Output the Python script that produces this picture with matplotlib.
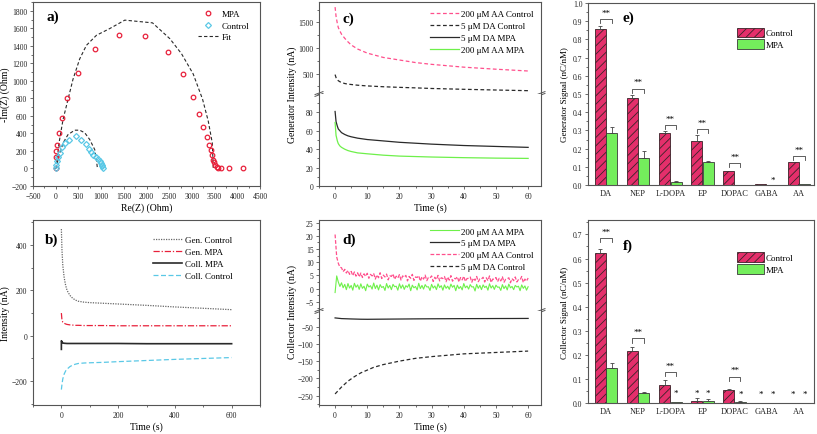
import numpy as np
import matplotlib
matplotlib.use("Agg")
import matplotlib.pyplot as plt
from matplotlib.ticker import MultipleLocator, FixedLocator
from matplotlib.lines import Line2D

plt.rcParams['font.family'] = ['Liberation Serif', 'DejaVu Serif']
plt.rcParams['hatch.linewidth'] = 0.6

# ---------------- data ----------------
# a) Nyquist
mpa_re = [0, 5, 15, 30, 70, 140, 257, 500, 875, 1390, 1963, 2463, 2809, 3015, 3162,
          3250, 3331, 3375, 3412, 3449, 3471, 3493, 3507, 3544, 3581, 3647, 3809, 4125]
mpa_im = [4, 130, 196, 272, 400, 572, 802, 1086, 1359, 1527, 1512, 1328, 1075, 813, 621,
          468, 364, 272, 207, 157, 100, 69, 38, 15, 11, 11, 11, 0]
ctrl_re = [5, 14, 30, 50, 88, 140, 199, 294, 441, 566, 662, 735, 780, 824, 880, 934, 970, 993,
           1015, 1030, 1044]
ctrl_im = [40, 4, 80, 130, 176, 240, 291, 330, 368, 330, 284, 226, 190, 157, 130, 107, 88, 68,
           45, 25, 4]
fit_mpa_re = [0, 14, 73, 162, 272, 382, 529, 676, 897, 1191, 1522, 2132, 2515, 2772, 3029,
              3235, 3360, 3449, 3471]
fit_mpa_im = [0, 22, 291, 560, 790, 1020, 1251, 1405, 1520, 1597, 1693, 1662, 1481, 1309, 1078,
              790, 541, 291, 0]
fit_ctrl_re = [0, 14, 73, 162, 272, 419, 529, 640, 750, 860, 897, 919]
fit_ctrl_im = [0, 22, 138, 291, 387, 437, 437, 407, 330, 215, 100, 0]

# b) chronoamperometry 600 s
b_t = [0, 2, 5, 10, 15, 20, 30, 40, 50, 60, 80, 100, 150, 200, 300, 400, 500, 600]
gen_ctrl = [470, 380, 310, 255, 222, 200, 178, 165, 157, 152, 148, 146, 143, 140, 134, 127, 121, 115]
gen_mpa = [100, 70, 60, 55, 52, 50, 48, 47, 46, 46, 45, 45, 45, 44, 44, 44, 44, 44]
coll_mpa_t = [0, 0, 5, 10, 20, 40, 60, 100, 200, 300, 400, 500, 600]
coll_mpa = [-60, -22, -32, -33, -34, -34, -34, -34, -34, -35, -35, -35, -35]
coll_ctrl = [-237, -215, -190, -168, -155, -147, -136, -129, -125, -122, -120, -119, -117, -114,
             -109, -104, -100, -96]

# c) generator currents 60 s
c_t = [0, 0.3, 0.7, 1, 1.5, 2, 3, 4, 5, 7, 10, 15, 20, 25, 30, 40, 50, 60]
c_aa_ctrl = [1800, 1620, 1480, 1400, 1330, 1270, 1190, 1120, 1060, 980, 900, 815, 765, 715, 680,
             625, 585, 550]
c_da_ctrl = [480, 420, 380, 360, 340, 325, 305, 293, 286, 272, 258, 242, 230, 220, 208, 192, 178, 165]
c_da_mpa = [81, 70, 65, 62, 60, 58, 56, 54.5, 53.5, 52, 50.5, 49, 47.5, 46.5, 45.5, 44, 43, 42]
c_aa_mpa = [69, 55, 49, 46, 43.5, 42, 40, 38.5, 37.5, 36, 35, 33.5, 32.5, 32, 31.5, 30.8, 30.3, 30]

# d) collector currents 60 s
d_aa_ctrl = [20.5, 12.0, 9.6, 8.1, 7.9, 6.4, 7.3, 5.9, 6.9, 5.4, 6.5, 4.9, 6.3, 4.7, 6.0, 4.4, 5.9,
             4.2, 5.6, 4.6, 5.8, 3.9, 5.4, 4.8, 5.7, 3.6, 5.2, 4.1, 6.0, 3.8, 5.1, 4.4, 5.5, 3.3,
             4.9, 4.6, 5.6, 3.5, 4.7, 4.0, 5.3, 3.2, 4.8, 4.3, 5.0, 2.9, 4.6, 3.9, 5.4, 3.1, 4.4,
             4.2, 4.9, 2.8, 4.5, 3.6, 5.1, 3.0, 4.2, 4.0, 4.8, 2.7, 4.3, 3.4, 5.0, 2.9, 4.1, 3.8,
             4.6, 2.6, 4.4, 3.2, 4.9, 2.8, 3.9, 3.7, 4.5, 2.5, 4.2, 3.3, 4.7, 2.7, 3.8, 3.9, 4.4,
             2.4, 4.0, 3.1, 4.6, 2.6, 3.7, 3.6, 4.3, 2.5, 4.1, 3.0, 4.8, 2.3, 3.6, 3.5, 4.2, 2.6,
             3.9, 2.9, 4.5, 2.4, 3.5, 3.7, 4.1, 2.2, 3.8, 3.0, 4.4, 2.5, 3.4, 3.3, 4.6, 2.3, 3.6,
             2.8, 4.0]
d_aa_mpa = [-1.5, 4.8, 2.5, 0.8, 2.2, 0.3, 1.6, -0.4, 1.9, 0.2, 1.2, -0.6, 2.0, 0.5, 1.4, -0.3,
            1.8, 0.1, 0.9, -0.8, 1.7, 0.6, 1.1, -0.2, 2.1, 0.0, 1.3, -0.5, 1.5, 0.4, 0.8, -0.7,
            1.9, 0.2, 1.2, -0.4, 1.6, 0.7, 0.9, -0.6, 1.8, 0.1, 1.4, -0.3, 1.1, 0.5, 1.7, -0.8,
            1.3, 0.3, 0.8, -0.5, 2.0, 0.0, 1.2, -0.2, 1.5, 0.6, 0.7, -0.7, 1.6, 0.2, 1.0, -0.4,
            1.8, 0.4, 1.1, -0.6, 1.4, 0.1, 0.9, -0.3, 1.7, 0.5, 1.2, -0.8, 1.3, 0.0, 0.8, -0.5,
            1.9, 0.3, 1.0, -0.2, 1.5, 0.6, 0.7, -0.9, 1.6, 0.1, 1.2, -0.4, 1.4, 0.4, 0.9, -0.6,
            1.8, 0.2, 1.1, -0.3, 1.3, 0.5, 0.6, -0.7, 1.5, 0.0, 1.0, -0.5, 1.7, 0.3, 0.8, -0.4,
            1.2, 0.6, 0.9, -0.8, 1.4, 0.1, 1.0, -0.6, 0.7]
d_da_mpa_t = [0, 2, 5, 8, 10, 15, 20, 25, 30, 35, 40, 45, 50, 55, 60]
d_da_mpa = [-25, -27, -28, -28.8, -29, -28.6, -28.2, -27.8, -27.5, -27.3, -27.1, -27, -26.8,
            -26.7, -26.5]
d_da_ctrl_t = [0, 2, 4, 6, 8, 10, 12, 15, 20, 25, 30, 35, 40, 45, 50, 55, 60]
d_da_ctrl = [-245, -225, -208, -195, -184, -176, -168, -160, -150, -142, -137, -133, -129, -127,
             -125, -123, -121]

# e), f) bar charts
categories = ['DA', 'NEP', 'L-DOPA', 'EP', 'DOPAC', 'GABA', 'AA']
e_ctrl = [0.857, 0.477, 0.283, 0.244, 0.077, 0.004, 0.125]
e_ctrl_err = [0.018, 0.018, 0.011, 0.033, 0.0, 0.0, 0.0]
e_mpa = [0.283, 0.150, 0.018, 0.128, 0.002, 0.0, 0.007]
e_mpa_err = [0.038, 0.037, 0.004, 0.002, 0.0, 0.0, 0.0]
e_sig_idx = [0, 1, 2, 3, 4, 6]
e_sig_y = [0.912, 0.53, 0.328, 0.31, 0.119, 0.16]
e_dot = [(5, 1, 0.026)]

f_ctrl = [0.623, 0.218, 0.076, 0.008, 0.055, 0.001, 0.0]
f_ctrl_err = [0.017, 0.013, 0.019, 0.011, 0.004, 0.0, 0.0]
f_mpa = [0.144, 0.040, 0.003, 0.008, 0.004, 0.0, 0.0]
f_mpa_err = [0.023, 0.006, 0.0, 0.007, 0.006, 0.0, 0.0]
f_sig_idx = [0, 1, 2, 4]
f_sig_y = [0.686, 0.268, 0.13, 0.11]
f_dot = [(2, 1, 0.041), (3, -1, 0.044), (3, 1, 0.044), (4, 1, 0.037), (5, -1, 0.036),
         (5, 1, 0.036), (6, -1, 0.036), (6, 1, 0.036)]

# ---------------- style ----------------
W, H = 817, 435
fig = plt.figure(figsize=(W / 100, H / 100), dpi=100)

def box(l, t, r, b):
    return [l / W, 1 - b / H, (r - l) / W, (b - t) / H]

FRAME = '#555555'
TICK_FS = 5.5
LAB_FS = 7
LEG_FS = 6.5
PANEL_FS = 11
RED = '#e8203a'
CYAN = '#5ac8e6'
PINK = '#ff4f8c'
GREEN = '#6ef04a'
DARK = '#2a2a2a'
BAR_PINK = '#e42f6b'
BAR_GREEN = '#74ee5c'

def style(ax):
    for s in ax.spines:
        ax.spines[s].set_color(FRAME)
        ax.spines[s].set_linewidth(0.8)
    ax.tick_params(which='both', direction='out', colors=FRAME, labelcolor='#222222',
                   labelsize=TICK_FS, width=0.6, top=False, right=False, pad=1.5)
    ax.tick_params(which='major', length=2.5)
    ax.tick_params(which='minor', length=1.4)

def panel_label(ax, x, y, s):
    ax.text(x, y, s, transform=ax.transAxes, fontsize=PANEL_FS, fontweight='bold',
            va='top', ha='left')

def break_marks(ax):
    for xx in (0, 1):
        for dy in (-0.010, 0.010):
            ax.plot([xx - 0.018, xx + 0.018], [dy - 0.016, dy + 0.016],
                    transform=ax.transAxes, color=FRAME, lw=0.7, clip_on=False)

# ---------------- a) ----------------
ax = fig.add_axes(box(33, 3, 260, 187))
style(ax)
ax.plot(fit_mpa_re, fit_mpa_im, ls=(0, (3, 2)), color=DARK, lw=0.8)
ax.plot(fit_ctrl_re, fit_ctrl_im, ls=(0, (3, 2)), color=DARK, lw=0.8)
ax.plot(mpa_re, mpa_im, 'o', mfc='none', mec=RED, ms=3.3, mew=0.9)
ax.plot(ctrl_re, ctrl_im, 'D', mfc='none', mec=CYAN, ms=3, mew=0.9)
ax.set_xlim(-500, 4500)
ax.set_ylim(-200, 1900)
ax.xaxis.set_major_locator(MultipleLocator(500))
ax.xaxis.set_minor_locator(MultipleLocator(250))
ax.yaxis.set_major_locator(FixedLocator(np.arange(-200, 1801, 200)))
ax.yaxis.set_minor_locator(MultipleLocator(100))
ax.set_xlabel('Re(Z) (Ohm)', fontsize=LAB_FS, labelpad=2)
ax.set_ylabel('-Im(Z) (Ohm)', fontsize=LAB_FS, labelpad=1)
panel_label(ax, 0.058, 0.96, 'a)')
hs = [Line2D([], [], ls='none', marker='o', mfc='none', mec=RED, ms=3.3, mew=0.9),
      Line2D([], [], ls='none', marker='D', mfc='none', mec=CYAN, ms=3, mew=0.9),
      Line2D([], [], ls=(0, (3, 2)), color=DARK, lw=0.8)]
ax.legend(hs, ['MPA', 'Control', 'Fit'], loc='upper left', bbox_to_anchor=(0.70, 0.99),
          frameon=False, fontsize=LEG_FS, handlelength=2.2, labelspacing=0.35,
          handletextpad=0.4, borderpad=0.2)

# ---------------- b) ----------------
ax = fig.add_axes(box(33, 221, 260, 406))
style(ax)
ax.plot(b_t, gen_ctrl, ls=(0, (1, 1)), color='#666666', lw=0.9, label='Gen. Control')
ax.plot(b_t, gen_mpa, ls=(0, (5, 1.5, 1, 1.5)), color=RED, lw=0.9, label='Gen. MPA')
ax.plot(coll_mpa_t, coll_mpa, ls='-', color=DARK, lw=1.2, label='Coll. MPA')
ax.plot(b_t, coll_ctrl, ls=(0, (4, 2)), color=CYAN, lw=0.9, label='Coll. Control')
ax.set_xlim(-100, 700)
ax.set_ylim(-305, 510)
ax.xaxis.set_major_locator(FixedLocator([0, 200, 400, 600]))
ax.xaxis.set_minor_locator(MultipleLocator(100))
ax.yaxis.set_major_locator(FixedLocator([-200, 0, 200, 400]))
ax.yaxis.set_minor_locator(MultipleLocator(100))
ax.set_xlabel('Time (s)', fontsize=LAB_FS, labelpad=2)
ax.set_ylabel('Intensity (nA)', fontsize=LAB_FS, labelpad=1)
panel_label(ax, 0.05, 0.93, 'b)')
ax.legend(loc='upper left', bbox_to_anchor=(0.50, 0.95), frameon=False, fontsize=LEG_FS,
          handlelength=3.2, labelspacing=0.4, handletextpad=0.4, borderpad=0.2)

# ---------------- c) ----------------
axu = fig.add_axes(box(319, 3, 541, 95))
axl = fig.add_axes(box(319, 95, 541, 187))
for a_ in (axu, axl):
    style(a_)
    a_.set_xlim(-5, 64)
    a_.xaxis.set_major_locator(MultipleLocator(10))
    a_.xaxis.set_minor_locator(MultipleLocator(5))
axu.spines['bottom'].set_visible(False)
axl.spines['top'].set_visible(False)
axu.tick_params(axis='x', which='both', bottom=False, labelbottom=False)
axu.plot(c_t, c_aa_ctrl, ls=(0, (3, 2)), color=PINK, lw=0.9, label='200 μM AA Control')
axu.plot(c_t, c_da_ctrl, ls=(0, (3, 2)), color=DARK, lw=0.9, label='5 μM DA Control')
axl.plot(c_t, c_da_mpa, ls='-', color=DARK, lw=0.9, label='5 μM DA MPA')
axl.plot(c_t, c_aa_mpa, ls='-', color=GREEN, lw=0.9, label='200 μM AA MPA')
axu.set_ylim(100, 1900)
axu.yaxis.set_major_locator(FixedLocator([500, 1000, 1500]))
axu.yaxis.set_minor_locator(MultipleLocator(250))
axl.set_ylim(0, 100)
axl.yaxis.set_major_locator(FixedLocator([0, 20, 40, 60, 80]))
axl.yaxis.set_minor_locator(MultipleLocator(10))
axl.set_xlabel('Time (s)', fontsize=LAB_FS, labelpad=2)
fig.text(292 / W, 1 - 95 / H, 'Generator Intensity (nA)', rotation=90, fontsize=LAB_FS,
         ha='center', va='center')
break_marks(axu)
panel_label(axu, 0.105, 0.9, 'c)')
h1, l1 = axu.get_legend_handles_labels()
h2, l2 = axl.get_legend_handles_labels()
axu.legend(h1 + h2, l1 + l2, loc='upper left', bbox_to_anchor=(0.47, 0.98), frameon=False,
           fontsize=LEG_FS, handlelength=3.2, labelspacing=0.4, handletextpad=0.3,
           borderpad=0.2)

# ---------------- d) ----------------
axu = fig.add_axes(box(319, 221, 541, 312))
axl = fig.add_axes(box(319, 312, 541, 406))
for a_ in (axu, axl):
    style(a_)
    a_.set_xlim(-5, 64)
    a_.xaxis.set_major_locator(MultipleLocator(10))
    a_.xaxis.set_minor_locator(MultipleLocator(5))
axu.spines['bottom'].set_visible(False)
axl.spines['top'].set_visible(False)
axu.tick_params(axis='x', which='both', bottom=False, labelbottom=False)
t_aa_c = np.linspace(0, 60, len(d_aa_ctrl))
t_aa_m = np.linspace(0, 60, len(d_aa_mpa))
axu.plot(t_aa_m, d_aa_mpa, ls='-', color=GREEN, lw=0.8, label='200 μM AA MPA')
axl.plot(d_da_mpa_t, d_da_mpa, ls='-', color=DARK, lw=0.9, label='5 μM DA MPA')
axu.plot(t_aa_c, d_aa_ctrl, ls=(0, (3, 1.5)), color=PINK, lw=0.9, label='200 μM AA Control')
axl.plot(d_da_ctrl_t, d_da_ctrl, ls=(0, (3, 2)), color=DARK, lw=0.9, label='5 μM DA Control')
axu.set_ylim(-8.5, 26)
axu.yaxis.set_major_locator(FixedLocator([-5, 0, 5, 10, 15, 20, 25]))
axu.yaxis.set_minor_locator(MultipleLocator(2.5))
axl.set_ylim(-277, -5)
axl.yaxis.set_major_locator(FixedLocator([-250, -200, -150, -100, -50]))
axl.yaxis.set_minor_locator(MultipleLocator(25))
axl.set_xlabel('Time (s)', fontsize=LAB_FS, labelpad=2)
fig.text(292 / W, 1 - 312 / H, 'Collector Intensity (nA)', rotation=90, fontsize=LAB_FS,
         ha='center', va='center')
break_marks(axu)
panel_label(axu, 0.105, 0.86, 'd)')
hu, lu = axu.get_legend_handles_labels()
hl, ll = axl.get_legend_handles_labels()
order_h = [hu[0], hl[0], hu[1], hl[1]]
order_l = [lu[0], ll[0], lu[1], ll[1]]
axu.legend(order_h, order_l, loc='upper left', bbox_to_anchor=(0.47, 0.99), frameon=False,
           fontsize=LEG_FS, handlelength=3.2, labelspacing=0.4, handletextpad=0.3,
           borderpad=0.2)

# ---------------- e), f) ----------------
def bars(rect, ctrl, ctrl_err, mpa, mpa_err, sig_idx, sig_y, dots, ymax, ylabel, lab,
         lab_y, leg_y, leg_dy, star_dy):
    ax = fig.add_axes(rect)
    style(ax)
    x = np.arange(1, len(categories) + 1)
    off = 0.18
    w = 0.34
    ax.bar(x - off, ctrl, w, color=BAR_PINK, edgecolor='#3a2228', hatch='////',
           linewidth=0.6, label='Control')
    ax.bar(x + off, mpa, w, color=BAR_GREEN, edgecolor='#3a3a3a', linewidth=0.6, label='MPA')
    ce = np.array(ctrl_err)
    me = np.array(mpa_err)
    cm = ce > 0
    mm = me > 0
    ax.errorbar((x - off)[cm], np.array(ctrl)[cm], yerr=[np.zeros(cm.sum()), ce[cm]],
                fmt='none', ecolor='#444444', elinewidth=0.6, capsize=1.6, capthick=0.6)
    ax.errorbar((x + off)[mm], np.array(mpa)[mm], yerr=[np.zeros(mm.sum()), me[mm]],
                fmt='none', ecolor='#444444', elinewidth=0.6, capsize=1.6, capthick=0.6)
    for i, yy in zip(sig_idx, sig_y):
        xs = [x[i] - off, x[i] - off, x[i] + off, x[i] + off]
        ys = [yy - leg_dy, yy, yy, yy - leg_dy]
        ax.plot(xs, ys, color='#444444', lw=0.6)
        ax.text(x[i], yy + star_dy, '**', ha='center', va='bottom', fontsize=6.5)
    for i, side, yy in dots:
        ax.text(x[i] + side * off, yy, '*', ha='center', va='center', fontsize=6.5)
    ax.set_xlim(0.44, 7.47)
    ax.set_ylim(0, ymax)
    ax.set_xticks(x)
    ax.set_xticklabels(categories, fontsize=6)
    ax.tick_params(axis='x', length=0)
    ax.tick_params(axis='x', pad=3)
    ax.yaxis.set_major_locator(MultipleLocator(0.1))
    ax.yaxis.set_minor_locator(MultipleLocator(0.05))
    ax.set_ylabel(ylabel, fontsize=LAB_FS - 0.5, labelpad=3)
    panel_label(ax, 0.153, lab_y, lab)
    ax.legend(loc='upper left', bbox_to_anchor=(0.63, leg_y), frameon=False, fontsize=LEG_FS,
              handlelength=3.0, handleheight=1.3, labelspacing=0.2, handletextpad=0.2,
              borderpad=0.2)
    return ax

bars(box(588, 4, 814, 186), e_ctrl, e_ctrl_err, e_mpa, e_mpa_err, e_sig_idx, e_sig_y, e_dot,
     1.0, 'Generator Signal (nC/nM)', 'e)', 0.96, 0.9, 0.022, 0.012)
bars(box(588, 221, 814, 404), f_ctrl, f_ctrl_err, f_mpa, f_mpa_err, f_sig_idx, f_sig_y, f_dot,
     0.76, 'Collector Signal (nC/nM)', 'f)', 0.9, 0.86, 0.017, 0.009)

fig.savefig('out.png', dpi=100)
